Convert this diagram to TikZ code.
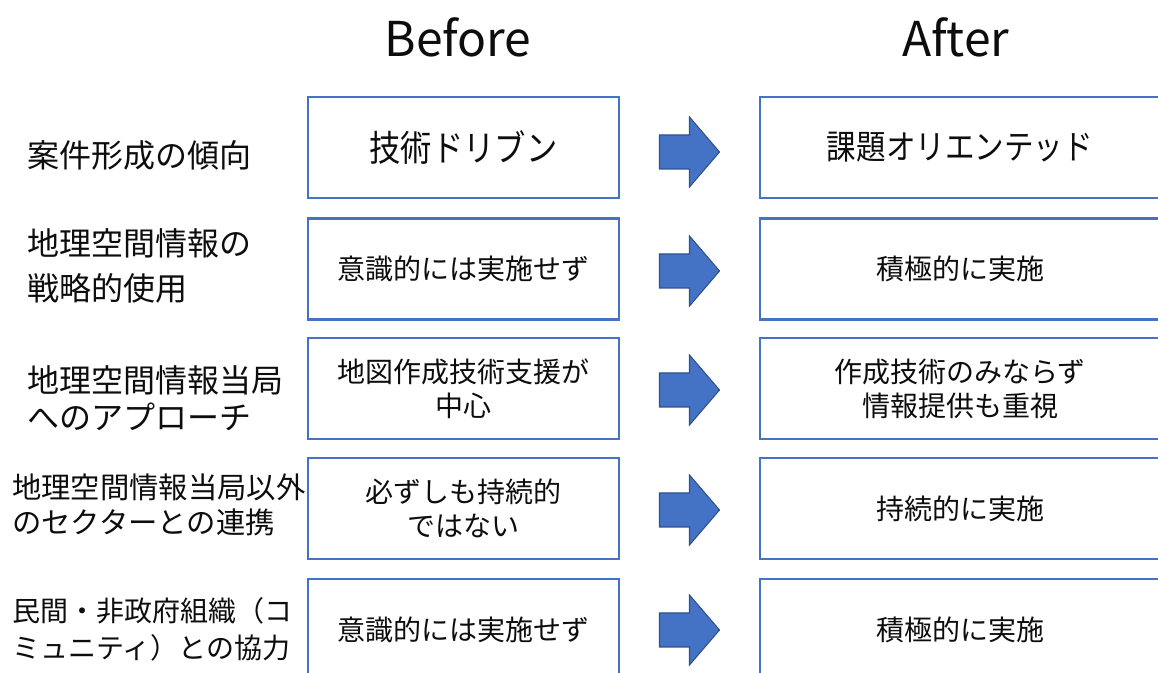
\documentclass[tikz,border=0pt]{standalone}
\usepackage{fontspec}
\setmainfont{Noto Sans CJK JP}
\newfontfamily\narrowjp[FakeStretch=0.87]{Noto Sans CJK JP}
\usetikzlibrary{calc}
\definecolor{boxblue}{HTML}{4472C4}
\definecolor{arrowedge}{HTML}{2F528F}
\definecolor{txt}{HTML}{0D0D0D}
\begin{document}
\begin{tikzpicture}[x=0.75pt,y=-0.75pt,
  every node/.style={text=txt},
  lbox/.style={draw=boxblue, line width=1.6pt, minimum width=311*0.75pt, minimum height=101*0.75pt,
    align=center, inner sep=0pt, font=\fontsize{21}{25.5}\selectfont},
  rbox/.style={lbox, minimum width=400*0.75pt},
  rowlabel/.style={anchor=west, align=left, inner sep=0pt, font=\fontsize{24}{28.5}\selectfont},
  title/.style={anchor=base, inner sep=0pt, font=\fontsize{36}{40}\selectfont},
  blockarrow/.style={fill=boxblue, draw=arrowedge, line width=0.8pt, line join=miter}]
\useasboundingbox (0,0) rectangle (1158,673);
\clip (0,0) rectangle (1158,673);
\fill[white] (0,0) rectangle (1158,673);

% titles
\node[title] (tb) at (458,57) {Before};
\node[title] (ta) at (956,57) {After};

% row labels
\node[rowlabel] (n1) at (27,155) {案件形成の傾向};
\node[rowlabel, font=\fontsize{24}{33.75}\selectfont] (n2) at (27,266) {地理空間情報の\\戦略的使用};
\node[rowlabel, font=\fontsize{24}{27.75}\selectfont] (n3) at (27,398) {地理空間情報当局\\へのアプローチ};
\node[rowlabel, font=\fontsize{22}{26.25}\selectfont] (n4) at (12,505) {地理空間情報当局以外\\のセクターとの連携};
\node[rowlabel, font=\fontsize{21}{27.75}\selectfont] (n5) at (12,629) {民間・非政府組織（コ\\ミュニティ）との協力};

% before boxes
\node[lbox, font=\narrowjp\fontsize{27}{30}\selectfont] (b1) at (463.5,147.5) {技術ドリブン};
\node[lbox] (b2) at (463.5,269) {意識的には実施せず};
\node[lbox] (b3) at (463.5,388.5) {地図作成技術支援が\\中心};
\node[lbox] (b4) at (463.5,508.5) {必ずしも持続的\\ではない};
\node[lbox] (b5) at (463.5,629.5) {意識的には実施せず};

% after boxes
\node[rbox, font=\narrowjp\fontsize{25.5}{30}\selectfont] (a1) at (960,147.5) {課題オリエンテッド};
\node[rbox] (a2) at (960,269) {積極的に実施};
\node[rbox] (a3) at (960,388.5) {作成技術のみならず\\情報提供も重視};
\node[rbox] (a4) at (960,508.5) {持続的に実施};
\node[rbox] (a5) at (960,629.5) {積極的に実施};

% block arrows
\foreach \i/\dy in {1/4.5, 2/2, 3/1.5, 4/1.5, 5/0.5}{
  \coordinate (ar\i) at ($(b\i.east)!0.5!(a\i.west)+(0,\dy)$);
  \draw[blockarrow] (ar\i) ++(-30,-17) -- ++(30,0) -- ++(0,-18) -- ++(30,35)
     -- ++(-30,35) -- ++(0,-18) -- ++(-30,0) -- cycle;
}
\end{tikzpicture}
\end{document}
